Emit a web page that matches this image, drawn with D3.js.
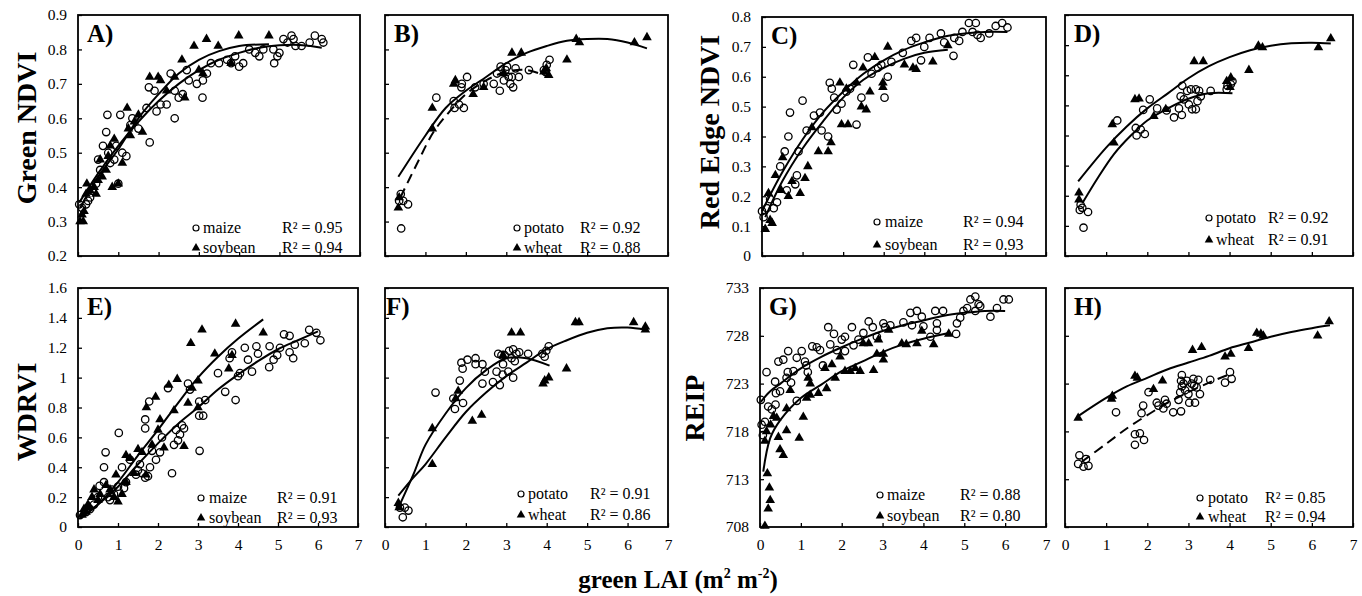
<!DOCTYPE html>
<html>
<head>
<meta charset="utf-8">
<script src="https://cdn.jsdelivr.net/npm/d3@7"></script>
<style>
  body { margin: 0; background: #fff; }
  svg { display: block; font-family: "Liberation Serif", "Times New Roman", serif; }
</style>
</head>
<body>
<svg id="chart" width="1362" height="596"></svg>
<script>
// tick values
const xTicks = [0, 1, 2, 3, 4, 5, 6, 7];
const ndviTicks = [0.2, 0.3, 0.4, 0.5, 0.6, 0.7, 0.8, 0.9];
const reNdviTicks = [0, 0.1, 0.2, 0.3, 0.4, 0.5, 0.6, 0.7, 0.8];
const wdrviTicks = [0, 0.2, 0.4, 0.6, 0.8, 1, 1.2, 1.4, 1.6];
const reipTicks = [708, 713, 718, 723, 728, 733];

// A) Green NDVI, maize / soybean
const aMaize = [[0.03,0.35],[0.1,0.34],[0.2,0.35],[0.25,0.36],[0.3,0.37],[0.35,0.39],[0.45,0.41],[0.5,0.48],[0.55,0.45],[0.62,0.52],[0.7,0.56],[0.73,0.61],[0.75,0.5],[0.8,0.47],[0.9,0.48],[0.95,0.52],[1.0,0.41],[1.05,0.61],[1.1,0.5],[1.2,0.49],[1.3,0.58],[1.35,0.6],[1.5,0.57],[1.7,0.63],[1.76,0.69],[1.78,0.53],[1.9,0.68],[1.95,0.62],[2.05,0.64],[2.2,0.64],[2.3,0.73],[2.4,0.6],[2.4,0.68],[2.5,0.66],[2.6,0.67],[2.7,0.74],[2.75,0.71],[2.95,0.7],[3.09,0.66],[3.1,0.71],[3.2,0.73],[3.3,0.76],[3.5,0.76],[3.7,0.77],[3.8,0.76],[3.9,0.78],[4.0,0.75],[4.1,0.76],[4.25,0.8],[4.4,0.79],[4.5,0.78],[4.6,0.8],[4.87,0.76],[4.85,0.8],[4.95,0.78],[5.0,0.79],[5.1,0.83],[5.2,0.82],[5.3,0.84],[5.35,0.83],[5.4,0.81],[5.55,0.81],[5.75,0.82],[5.88,0.84],[6.05,0.83],[6.09,0.82]];
const aSoybean = [[0.05,0.3],[0.1,0.32],[0.13,0.3],[0.15,0.33],[0.2,0.38],[0.22,0.41],[0.3,0.39],[0.4,0.4],[0.45,0.38],[0.5,0.42],[0.55,0.48],[0.6,0.43],[0.7,0.45],[0.75,0.49],[0.8,0.52],[0.85,0.4],[0.9,0.54],[1.0,0.41],[1.1,0.47],[1.22,0.63],[1.25,0.57],[1.3,0.55],[1.4,0.59],[1.5,0.61],[1.6,0.56],[1.78,0.72],[1.99,0.72],[2.05,0.71],[2.2,0.68],[2.4,0.72],[2.58,0.77],[2.65,0.66],[2.88,0.81],[3.0,0.74],[3.1,0.73],[3.19,0.83],[3.48,0.81],[3.8,0.76],[3.99,0.84],[4.74,0.84]];
const aMaizeFit = [[0.03,0.355],[0.5,0.44],[1,0.52],[1.5,0.59],[2,0.65],[2.5,0.7],[3,0.74],[3.5,0.77],[4,0.79],[4.5,0.805],[5,0.812],[5.5,0.813],[6.05,0.805]];
const aSoybeanFit = [[0.05,0.34],[0.5,0.43],[1,0.51],[1.5,0.6],[2,0.67],[2.5,0.73],[3,0.77],[3.5,0.795],[4,0.81],[4.74,0.815]];
const aR2 = [0.95, 0.94];

// B) Green NDVI, potato / wheat
const bPotato = [[0.4,0.28],[0.39,0.38],[0.45,0.36],[0.57,0.35],[0.35,0.36],[1.27,0.66],[1.7,0.65],[1.72,0.63],[1.83,0.64],[1.95,0.63],[1.89,0.69],[1.9,0.7],[2.03,0.72],[2.23,0.69],[2.44,0.7],[2.69,0.7],[2.84,0.68],[2.77,0.73],[2.86,0.75],[2.94,0.71],[2.98,0.74],[3.06,0.72],[3.1,0.7],[3.17,0.69],[3.14,0.72],[3.23,0.745],[3.31,0.72],[3.02,0.75],[3.56,0.74],[3.93,0.74],[4.0,0.755],[4.07,0.77],[3.97,0.735]];
const bWheat = [[0.33,0.34],[0.35,0.37],[1.17,0.63],[1.17,0.57],[1.7,0.7],[1.74,0.71],[2.18,0.67],[2.44,0.69],[2.94,0.73],[3.14,0.79],[3.37,0.79],[3.93,0.735],[3.99,0.745],[4.05,0.725],[4.5,0.77],[4.73,0.83],[4.81,0.82],[6.17,0.82],[6.48,0.835]];
const bPotatoFit = [[0.38,0.37],[0.8,0.47],[1.2,0.56],[1.6,0.62],[2,0.67],[2.5,0.71],[3,0.735],[3.5,0.74],[4.05,0.72]];
const bWheatFit = [[0.33,0.43],[1,0.55],[1.5,0.63],[2,0.68],[2.5,0.72],[3,0.76],[3.5,0.79],[4,0.81],[4.5,0.825],[5,0.83],[5.5,0.83],[6,0.82],[6.48,0.803]];
const bR2 = [0.92, 0.88];

// C) Red Edge NDVI, maize / soybean
const cMaize = [[0,0.15],[0.04,0.13],[0.12,0.16],[0.2,0.19],[0.29,0.16],[0.37,0.18],[0.45,0.3],[0.56,0.35],[0.65,0.4],[0.69,0.48],[0.61,0.22],[0.82,0.24],[0.86,0.27],[0.9,0.35],[1.0,0.52],[1.1,0.42],[1.28,0.47],[1.43,0.48],[1.47,0.42],[1.63,0.4],[1.67,0.58],[1.72,0.56],[1.78,0.53],[1.84,0.49],[1.96,0.51],[2.08,0.55],[2.17,0.56],[2.25,0.64],[2.33,0.44],[2.45,0.53],[2.61,0.665],[2.7,0.61],[2.86,0.63],[2.94,0.64],[3.02,0.53],[3.1,0.6],[3.19,0.65],[3.47,0.68],[3.68,0.72],[3.8,0.73],[3.92,0.655],[4.0,0.7],[4.13,0.73],[4.41,0.745],[4.49,0.715],[4.72,0.67],[4.74,0.73],[4.86,0.72],[4.94,0.75],[5.1,0.78],[5.27,0.78],[5.19,0.75],[5.31,0.74],[5.39,0.73],[5.6,0.745],[5.76,0.77],[5.92,0.78],[6.05,0.765]];
const cSoybean = [[0.08,0.09],[0.2,0.12],[0.25,0.11],[0.16,0.21],[0.33,0.27],[0.47,0.22],[0.51,0.33],[0.65,0.2],[0.74,0.25],[0.94,0.21],[1.06,0.26],[1.13,0.3],[1.23,0.43],[1.39,0.35],[1.63,0.35],[1.7,0.38],[1.92,0.58],[1.96,0.44],[2.12,0.44],[2.08,0.56],[2.33,0.58],[2.45,0.5],[2.57,0.49],[2.49,0.63],[2.66,0.55],[2.78,0.665],[2.98,0.565],[2.98,0.58],[3.1,0.7],[3.51,0.64],[3.72,0.63],[3.8,0.625],[4.21,0.65],[4.58,0.705]];
const cMaizeFit = [[0,0.15],[0.5,0.28],[1,0.39],[1.5,0.48],[2,0.55],[2.5,0.61],[3,0.655],[3.5,0.69],[4,0.715],[4.5,0.735],[5,0.745],[5.5,0.75],[6.05,0.75]];
const cSoybeanFit = [[0.08,0.13],[0.5,0.25],[1,0.36],[1.5,0.45],[2,0.53],[2.5,0.59],[3,0.63],[3.5,0.66],[4,0.68],[4.58,0.69]];
const cR2 = [0.94, 0.93];

// D) Red Edge NDVI, potato / wheat
const dPotato = [[0.36,0.153],[0.42,0.16],[0.45,0.094],[0.56,0.146],[0.38,0.17],[1.27,0.45],[1.72,0.425],[1.74,0.4],[1.84,0.42],[1.94,0.405],[1.9,0.485],[2.06,0.52],[2.24,0.49],[2.47,0.483],[2.65,0.46],[2.84,0.468],[2.77,0.49],[2.85,0.565],[2.81,0.53],[2.89,0.52],[2.97,0.548],[3.06,0.553],[3.01,0.503],[3.09,0.487],[3.18,0.487],[3.22,0.514],[3.18,0.553],[3.3,0.53],[3.26,0.548],[3.54,0.548],[3.93,0.553],[4.03,0.57],[4.07,0.58],[3.95,0.565]];
const dWheat = [[0.34,0.21],[0.34,0.187],[1.15,0.437],[1.19,0.376],[1.7,0.52],[1.8,0.522],[2.16,0.464],[2.45,0.487],[3.14,0.646],[3.36,0.646],[3.93,0.58],[4.03,0.592],[4.01,0.56],[4.47,0.617],[4.7,0.698],[4.8,0.692],[6.16,0.692],[6.46,0.722]];
const dPotatoFit = [[0.42,0.175],[0.8,0.26],[1.2,0.34],[1.6,0.4],[2,0.45],[2.5,0.49],[3,0.522],[3.5,0.54],[4.07,0.54]];
const dWheatFit = [[0.32,0.248],[1,0.36],[1.5,0.43],[2,0.49],[2.5,0.54],[3,0.59],[3.5,0.63],[4,0.66],[4.5,0.683],[5,0.698],[5.5,0.706],[6,0.708],[6.46,0.705]];
const dR2 = [0.92, 0.91];

// E) WDRVI, maize / soybean
const eMaize = [[0.05,0.08],[0.2,0.1],[0.3,0.12],[0.4,0.15],[0.5,0.2],[0.54,0.275],[0.65,0.3],[0.65,0.4],[0.69,0.5],[0.75,0.2],[0.8,0.18],[0.85,0.25],[0.9,0.22],[1.0,0.27],[1.02,0.63],[1.1,0.4],[1.15,0.26],[1.2,0.3],[1.3,0.45],[1.45,0.35],[1.5,0.38],[1.55,0.42],[1.6,0.36],[1.68,0.33],[1.68,0.72],[1.68,0.66],[1.75,0.34],[1.8,0.4],[1.85,0.51],[1.78,0.84],[1.95,0.45],[2.05,0.5],[2.1,0.6],[2.25,0.93],[2.35,0.36],[2.4,0.55],[2.45,0.65],[2.5,0.58],[2.55,0.62],[2.6,0.68],[2.65,0.66],[2.75,0.96],[2.8,0.92],[3.03,0.745],[3.04,0.51],[3.13,0.745],[3.03,0.84],[3.18,0.85],[3.5,1.03],[3.68,0.905],[3.79,1.13],[3.85,1.17],[3.94,0.85],[4.0,1.01],[4.05,1.03],[4.17,1.2],[4.25,1.12],[4.35,1.04],[4.46,1.21],[4.5,1.16],[4.78,1.07],[4.79,1.21],[4.89,1.12],[4.98,1.15],[5.05,1.2],[5.15,1.29],[5.29,1.28],[5.29,1.17],[5.38,1.13],[5.42,1.22],[5.67,1.23],[5.78,1.32],[5.96,1.3],[6.06,1.25]];
const eSoybean = [[0.1,0.08],[0.15,0.12],[0.2,0.1],[0.25,0.15],[0.3,0.13],[0.35,0.2],[0.4,0.25],[0.5,0.18],[0.55,0.22],[0.7,0.28],[0.8,0.25],[0.9,0.2],[0.95,0.35],[1.0,0.17],[1.1,0.22],[1.2,0.3],[1.2,0.48],[1.3,0.46],[1.4,0.36],[1.5,0.52],[1.6,0.5],[1.7,0.35],[1.71,0.8],[1.85,0.55],[1.94,0.87],[2.0,0.65],[2.05,0.72],[2.15,0.53],[2.27,0.95],[2.4,0.78],[2.48,0.99],[2.65,0.54],[2.75,0.83],[2.82,1.23],[2.85,0.93],[3.0,0.98],[3.0,0.8],[3.1,1.32],[3.42,1.16],[3.77,1.06],[3.85,1.15],[3.94,1.36],[4.63,1.3]];
const eMaizeFit = [[0.05,0.06],[0.5,0.15],[1,0.27],[1.5,0.42],[2,0.56],[2.5,0.69],[3,0.8],[3.5,0.92],[4,1.02],[4.5,1.11],[5,1.19],[5.5,1.25],[6,1.31]];
const eSoybeanFit = [[0.05,0.06],[0.5,0.15],[1,0.3],[1.5,0.48],[2,0.65],[2.5,0.83],[3,1.0],[3.5,1.14],[4,1.26],[4.63,1.39]];
const eR2 = [0.91, 0.93];

// F) WDRVI, potato / wheat
const fPotato = [[0.44,0.065],[0.49,0.13],[0.58,0.11],[0.37,0.13],[1.25,0.9],[1.69,0.86],[1.73,0.79],[1.85,0.98],[1.93,0.83],[1.89,1.1],[1.92,1.06],[2.04,1.12],[2.24,1.13],[2.24,1.09],[2.41,1.09],[2.47,1.04],[2.41,0.96],[2.67,0.97],[2.76,1.04],[2.8,1.16],[2.84,0.95],[2.88,1.15],[2.92,1.09],[2.91,1.02],[2.96,1.15],[3.05,1.04],[3.07,1.18],[3.13,1.13],[3.17,1.19],[3.17,1.0],[3.21,1.11],[3.25,1.16],[3.32,1.17],[3.54,1.16],[3.89,1.16],[3.99,1.18],[4.05,1.21],[3.95,1.14]];
const fWheat = [[0.33,0.16],[0.35,0.13],[1.17,0.66],[1.17,0.42],[1.81,0.91],[1.75,0.86],[2.16,0.71],[2.39,0.75],[3.13,1.3],[3.35,1.3],[2.92,1.15],[3.91,0.96],[3.95,0.98],[4.05,1.0],[4.49,1.06],[4.71,1.37],[4.8,1.37],[6.15,1.37],[6.44,1.32],[6.44,1.34]];
const fPotatoFit = [[0.35,0.14],[0.7,0.35],[1,0.55],[1.5,0.76],[2,0.93],[2.5,1.05],[3,1.13],[3.5,1.13],[4.07,1.08]];
const fWheatFit = [[0.33,0.21],[0.7,0.33],[1,0.42],[1.5,0.6],[2,0.77],[2.5,0.9],[3,1.01],[3.5,1.1],[4,1.19],[4.5,1.25],[5,1.3],[5.5,1.33],[6,1.335],[6.44,1.32]];
const fR2 = [0.91, 0.86];

// G) REIP, maize / soybean
const gMaize = [[0.02,721.3],[0.04,718.7],[0.07,717.6],[0.12,719],[0.16,724.2],[0.2,720.6],[0.29,720.3],[0.37,723.2],[0.38,720.8],[0.39,722],[0.45,725.3],[0.49,722.2],[0.57,725.5],[0.68,724.2],[0.69,726.4],[0.65,723.6],[0.76,723.1],[0.82,724.3],[0.9,725.7],[0.9,721.2],[1.02,726.4],[1.1,725.3],[1.13,724.9],[1.17,724.2],[1.28,726.9],[1.39,726.8],[1.47,726.5],[1.54,724.9],[1.67,728.9],[1.72,727.1],[1.81,728.2],[1.88,726.5],[2.0,727.6],[2.08,726.4],[2.08,727.9],[2.25,728.9],[2.29,727],[2.41,727.6],[2.53,728.3],[2.66,729.5],[2.76,728.9],[2.86,727.9],[3.02,729.3],[3.06,728.9],[3.19,729.1],[3.51,729.4],[3.68,730.4],[3.72,729.1],[3.84,730.6],[4.0,729],[3.96,730],[4.17,727.9],[4.29,730.6],[4.33,729.3],[4.33,728.6],[4.48,730.6],[4.8,728.2],[4.82,729.3],[4.9,729.9],[4.98,730.6],[5.07,730.9],[5.15,731.8],[5.27,732.1],[5.35,731.3],[5.39,731.1],[5.27,730.6],[5.64,730],[5.8,730.9],[5.96,731.8],[6.09,731.8]];
const gSoybean = [[0.12,708.1],[0.2,709.9],[0.25,710.8],[0.23,712.1],[0.18,713.6],[0.12,717],[0.16,718],[0.26,718.7],[0.33,719.6],[0.41,719.4],[0.45,717.4],[0.49,716.1],[0.57,715.5],[0.65,718.1],[0.65,720.4],[0.74,722.3],[0.96,717.3],[1.06,719.5],[1.14,721.5],[1.23,721.8],[1.18,723.6],[1.23,723],[1.43,722],[1.63,722.5],[1.59,724.6],[1.76,725],[1.84,723.6],[1.96,725.8],[2.08,724.3],[2.21,724.3],[2.33,724.6],[2.45,724.3],[2.53,727.2],[2.66,727.2],[2.78,724.4],[2.86,726.1],[2.9,727.6],[3.02,726.1],[3.02,725.5],[3.15,728.6],[3.47,727.2],[3.58,727.1],[3.84,727.2],[3.96,728.5],[4.25,727.1],[4.62,728.2]];
const gMaizeFit = [[0.02,721.1],[0.25,722.2],[0.5,723],[1,724.6],[1.5,725.8],[2,726.8],[2.5,727.7],[3,728.5],[3.5,729.1],[4,729.6],[4.5,730.1],[5,730.4],[5.5,730.6],[6,730.6]];
const gSoybeanFit = [[0.08,713.8],[0.25,717.3],[0.5,719.2],[1,721.5],[1.5,722.9],[2,724.3],[2.5,725.3],[3,726.3],[3.5,727.1],[4,727.7],[4.62,728.3]];
const gR2 = [0.88, 0.80];

// H) REIP, potato / wheat
const hPotato = [[0.35,715.5],[0.32,714.6],[0.45,714.3],[0.57,714.4],[0.51,715.1],[1.24,720],[1.7,717.7],[1.82,717.8],[1.7,716.6],[1.92,717.1],[1.9,720.7],[1.86,719.9],[2.03,722.1],[2.23,721],[2.27,720.7],[2.43,721.3],[2.39,720.4],[2.47,720.9],[2.63,720],[2.82,720.1],[2.76,721.3],[2.8,722.1],[2.84,723.9],[2.82,723.3],[2.84,722.7],[2.88,723],[2.92,722.3],[2.96,723.3],[3.0,721.9],[3.02,721],[3.08,723],[3.12,723.5],[3.16,721],[3.2,722.6],[3.24,723.4],[3.28,721.9],[3.14,722.8],[3.53,723.4],[3.89,723.1],[4.01,724.2],[4.05,723.5]];
const hWheat = [[0.32,719.4],[1.13,721.4],[1.15,721.7],[1.7,723.8],[1.76,723.6],[2.15,722.4],[2.37,723.3],[3.1,726.5],[3.32,726.8],[3.89,725.8],[4.03,726.1],[4.46,726.7],[4.66,728.3],[4.76,728.2],[4.82,728],[6.14,728],[6.42,729.5]];
const hPotatoFit = [[0.4,714.8],[1,716.7],[1.5,718.3],[2,719.7],[2.5,721],[3,722.1],[3.5,723.1],[4.01,724]];
const hWheatFit = [[0.32,719.6],[1,721.5],[1.5,722.7],[2,723.6],[2.5,724.5],[3,725.2],[3.5,725.9],[4,726.7],[4.5,727.3],[5,727.9],[5.5,728.4],[6,728.8],[6.44,729.1]];
const hR2 = [0.85, 0.94];

const cornNames = ['maize', 'soybean'];
const tuberNames = ['potato', 'wheat'];

const yTitles = [
  { text: 'Green NDVI', x: 36, y: 128 },
  { text: 'WDRVI', x: 36, y: 412 },
  { text: 'Red Edge NDVI', x: 719, y: 132 },
  { text: 'REIP', x: 704, y: 408 }
];

const panels = [
  { id: 'A', box: [78, 360, 15, 256], domain: [0.2, 0.9], ticks: ndviTicks, yLab: true, xLab: false,
    pts: [aMaize, aSoybean], fits: [aMaizeFit, aSoybeanFit], dash: [false, false], names: cornNames, r2: aR2,
    leg: { mx: 196, tx: 203, rx: 282, y: [233, 253] } },
  { id: 'B', box: [385, 668, 15, 256], domain: [0.2, 0.9], ticks: ndviTicks, yLab: false, xLab: false,
    pts: [bPotato, bWheat], fits: [bPotatoFit, bWheatFit], dash: [true, false], names: tuberNames, r2: bR2,
    leg: { mx: 517, tx: 524, rx: 580, y: [233, 253] } },
  { id: 'C', box: [762, 1046, 17, 256], domain: [0, 0.8], ticks: reNdviTicks, yLab: true, xLab: false,
    pts: [cMaize, cSoybean], fits: [cMaizeFit, cSoybeanFit], dash: [false, false], names: cornNames, r2: cR2,
    leg: { mx: 877, tx: 885, rx: 963, y: [227, 250] } },
  { id: 'D', box: [1065, 1353, 15, 256], domain: [0, 0.8], ticks: reNdviTicks, yLab: false, xLab: false,
    pts: [dPotato, dWheat], fits: [dPotatoFit, dWheatFit], dash: [false, false], names: tuberNames, r2: dR2,
    leg: { mx: 1209, tx: 1216, rx: 1268, y: [223, 245] } },
  { id: 'E', box: [78, 358, 288, 527], domain: [0, 1.6], ticks: wdrviTicks, yLab: true, xLab: true,
    pts: [eMaize, eSoybean], fits: [eMaizeFit, eSoybeanFit], dash: [false, false], names: cornNames, r2: eR2,
    leg: { mx: 201, tx: 209, rx: 277, y: [503, 523] } },
  { id: 'F', box: [385, 668, 288, 527], domain: [0, 1.6], ticks: wdrviTicks, yLab: false, xLab: true,
    pts: [fPotato, fWheat], fits: [fPotatoFit, fWheatFit], dash: [false, false], names: tuberNames, r2: fR2,
    leg: { mx: 521, tx: 528, rx: 590, y: [499, 520] } },
  { id: 'G', box: [760, 1046, 288, 527], domain: [708, 733], ticks: reipTicks, yLab: true, xLab: true,
    pts: [gMaize, gSoybean], fits: [gMaizeFit, gSoybeanFit], dash: [false, false], names: cornNames, r2: gR2,
    leg: { mx: 880, tx: 887, rx: 960, y: [500, 521] } },
  { id: 'H', box: [1065, 1353, 288, 527], domain: [708, 733], ticks: reipTicks, yLab: false, xLab: true,
    pts: [hPotato, hWheat], fits: [hPotatoFit, hWheatFit], dash: [true, false], names: tuberNames, r2: hR2,
    leg: { mx: 1200, tx: 1208, rx: 1265, y: [503, 522] } }
];

const svg = d3.select('#chart');
const tri = d3.symbol(d3.symbolTriangle, 40);
const triSmall = d3.symbol(d3.symbolTriangle, 32);

panels.forEach(p => {
  const [x0, x1, y0, y1] = p.box;
  const x = d3.scaleLinear().domain([0, 7]).range([x0, x1]);
  const y = d3.scaleLinear().domain(p.domain).range([y1, y0]);
  const g = svg.append('g').attr('id', 'panel-' + p.id);

  // axes (ticks point inward)
  const xAxis = d3.axisBottom(x).tickValues(xTicks).tickSize(-4).tickPadding(12)
    .tickFormat(p.xLab ? d => String(d) : '');
  const yAxis = d3.axisLeft(y).tickValues(p.ticks).tickSize(-4).tickPadding(11)
    .tickFormat(p.yLab ? d => String(d) : '');

  const gx = g.append('g').attr('transform', `translate(0,${y1})`).call(xAxis);
  const gy = g.append('g').attr('transform', `translate(${x0},0)`).call(yAxis);
  [gx, gy].forEach(a => {
    a.select('.domain').remove();
    a.attr('font-family', null).attr('font-size', 15.5);
    a.selectAll('line').attr('stroke', '#000').attr('stroke-width', 1.3);
    a.selectAll('text').attr('fill', '#000');
  });

  // frame
  g.append('rect')
    .attr('x', x0).attr('y', y0)
    .attr('width', x1 - x0).attr('height', y1 - y0)
    .attr('fill', 'none').attr('stroke', '#000').attr('stroke-width', 1.8);

  // panel letter
  const lx = p.id === 'F' ? x0 + 1 : x0 + 9;
  g.append('text')
    .attr('x', lx).attr('y', y0 + 27)
    .attr('font-size', 25).attr('font-weight', 'bold')
    .text(p.id + ')');

  // fitted curves
  const line = d3.line().x(d => x(d[0])).y(d => y(d[1])).curve(d3.curveCatmullRom.alpha(0.5));
  p.fits.forEach((f, i) => {
    g.append('path')
      .attr('d', line(f))
      .attr('fill', 'none').attr('stroke', '#000').attr('stroke-width', 2)
      .attr('stroke-dasharray', p.dash[i] ? '10,6' : null);
  });

  // triangles (second series)
  g.append('g').selectAll('path')
    .data(p.pts[1])
    .join('path')
    .attr('d', tri)
    .attr('transform', d => `translate(${x(d[0])},${y(d[1])})`)
    .attr('fill', '#000');

  // open circles (first series)
  g.append('g').selectAll('circle')
    .data(p.pts[0])
    .join('circle')
    .attr('cx', d => x(d[0])).attr('cy', d => y(d[1]))
    .attr('r', 3.7)
    .attr('fill', 'none').attr('stroke', '#000').attr('stroke-width', 1.3);

  // legend
  const L = p.leg;
  g.append('circle').attr('cx', L.mx).attr('cy', L.y[0] - 5).attr('r', 3)
    .attr('fill', 'none').attr('stroke', '#000').attr('stroke-width', 1.2);
  g.append('path').attr('d', triSmall)
    .attr('transform', `translate(${L.mx},${L.y[1] - 5})`).attr('fill', '#000');
  p.names.forEach((n, i) => {
    g.append('text').attr('x', L.tx).attr('y', L.y[i]).attr('font-size', 16).text(n);
    g.append('text').attr('x', L.rx).attr('y', L.y[i]).attr('font-size', 16)
      .text('R\u00B2 = ' + p.r2[i].toFixed(2));
  });
});

// y axis titles
yTitles.forEach(t => {
  svg.append('text')
    .attr('transform', `translate(${t.x},${t.y}) rotate(-90)`)
    .attr('text-anchor', 'middle')
    .attr('font-size', 28).attr('font-weight', 'bold')
    .text(t.text);
});

// x axis title
const xt = svg.append('text')
  .attr('x', 678).attr('y', 588)
  .attr('text-anchor', 'middle')
  .attr('font-size', 25).attr('font-weight', 'bold');
xt.append('tspan').text('green LAI (m');
xt.append('tspan').attr('font-size', 14).attr('dy', -10).text('2');
xt.append('tspan').attr('dy', 10).text(' m');
xt.append('tspan').attr('font-size', 14).attr('dy', -10).text('-2');
xt.append('tspan').attr('dy', 10).text(')');
</script>
</body>
</html>
